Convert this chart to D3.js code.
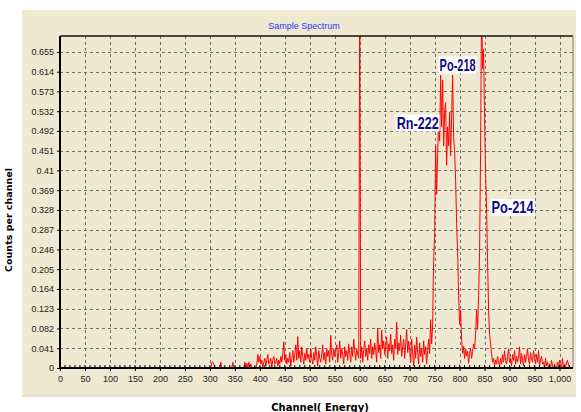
<!DOCTYPE html>
<html>
<head>
<meta charset="utf-8">
<script src="https://cdn.jsdelivr.net/npm/d3@7"></script>
<style>
  body { margin: 0; background: #fff; }
  svg { display: block; }
</style>
</head>
<body>
<div id="chart"></div>
<script>
// ---- Data ----
const channelStart = 300;
const channelStep = 2;
const counts = [
  // 300-348
  0,0,0.012,0.012,0.008,0,0,0,0,0,0,0.012,0,0,0,0,0,0,0,0,0,0,0,0.012,0,
  // 350-398
  0,0,0,0,0,0,0,0,0,0,0.012,0,0.01,0,0.012,0,0.008,0,0,0,0,0,0.008,0.028,0.012,
  // 400-448
  0.024,0.008,0.016,0,0.012,0.02,0.004,0.016,0.028,0.008,0.012,0.02,0,0.016,0.024,0.008,0.012,0.02,0.004,0.016,0.008,0.024,0.012,0.03,0.054,
  // 450-498
  0.016,0.028,0.008,0.02,0.012,0.032,0.004,0.02,0.036,0.012,0.028,0.048,0.016,0.065,0.02,0.036,0.012,0.044,0.024,0.008,0.03,0.016,0.04,0.02,0.028,
  // 500-548
  0.012,0.04,0.02,0.008,0.032,0.016,0.044,0.024,0.004,0.036,0.02,0.012,0.028,0.048,0.016,0.032,0.008,0.04,0.024,0.036,0.012,0.068,0.028,0.016,0.04,
  // 550-598
  0.024,0.036,0.048,0.012,0.032,0.056,0.02,0.04,0.028,0.008,0.044,0.024,0.036,0.016,0.05,0.03,0.012,0.044,0.024,0.06,0.036,0.016,0.04,0.028,0.02,
  // 600-648
  0.76,0.02,0.044,0.012,0.036,0.056,0.024,0.04,0.016,0.048,0.03,0.06,0.02,0.044,0.028,0.052,0.036,0.012,0.083,0.032,0.048,0.02,0.079,0.04,0.056,
  // 650-698
  0.028,0.044,0.064,0.02,0.05,0.036,0.07,0.03,0.048,0.016,0.06,0.04,0.095,0.028,0.052,0.036,0.068,0.024,0.044,0.06,0.02,0.048,0.08,0.032,0.056,
  // 700-748
  0.036,0.012,0.06,0.028,0.004,0.048,0.02,0.064,0.032,0.008,0.052,0.024,0.04,0.012,0.056,0.028,0.044,0.008,0.036,0.06,0.03,0.10,0.05,0.09,0.22,
  // 750-798 (Rn-222 / Po-218)
  0.28,0.46,0.36,0.44,0.52,0.47,0.607,0.50,0.597,0.46,0.53,0.55,0.42,0.50,0.46,0.53,0.44,0.52,0.607,0.48,0.45,0.39,0.30,0.24,0.15,
  // 800-848 (Po-214 rising)
  0.09,0.12,0.06,0.03,0.045,0.02,0.04,0.025,0.035,0.01,0.03,0.04,0.02,0.035,0.05,0.04,0.07,0.12,0.08,0.15,0.24,0.45,0.76,0.62,0.66,
  // 850-898
  0.52,0.40,0.33,0.22,0.12,0.07,0.05,0.03,0.012,0.02,0.004,0.016,0.008,0.024,0.012,0.004,0.02,0.008,0.028,0.012,0.036,0.016,0.008,0.024,0.04,
  // 900-948
  0.012,0.02,0.004,0.028,0.016,0.036,0.008,0.024,0.012,0.02,0.044,0.008,0.03,0.016,0.004,0.028,0.012,0.024,0.04,0.016,0.008,0.032,0.02,0.012,0.036,
  // 950-998
  0.02,0.008,0.028,0.012,0.036,0.004,0.016,0.024,0.008,0.012,0,0.02,0.004,0.012,0,0.008,0,0.016,0.004,0,0.008,0,0,0.012,0,
  // 1000-1022
  0.016,0.004,0,0.02,0,0.008,0,0.012,0.016,0.004,0,0
];

const xTickValues = d3.range(0, 1001, 50);
const yTickLabels = ["0","0.041","0.082","0.123","0.164","0.205","0.246","0.287","0.328",
                     "0.369","0.41","0.451","0.492","0.532","0.573","0.614","0.655"];
const yTickStep = 0.655 / 16;

const peakLabels   = ["Rn-222", "Po-218", "Po-214"];
const peakChannels = [716, 796, 906];
const peakValues   = [0.508, 0.628, 0.333];
const peakWidths   = [42, 36, 42];

// ---- Layout ----
const W = 581, H = 412;
const plot = { left: 60, top: 36, right: 573, bottom: 368 };
const narrow = "'Liberation Sans Narrow', 'Arial Narrow', sans-serif";

const svg = d3.select("#chart").append("svg")
  .attr("width", W).attr("height", H);

// outer panel
svg.append("rect")
  .attr("x", 22).attr("y", 10).attr("width", 554).attr("height", 386)
  .attr("fill", "#efe9d1");
svg.append("line")
  .attr("x1", 22).attr("x2", 576).attr("y1", 396).attr("y2", 396)
  .attr("stroke", "#d6d0bb");

const x = d3.scaleLinear().domain([0, 1027]).range([plot.left, plot.right]);
const y = d3.scaleLinear().domain([0, 0.688]).range([plot.bottom, plot.top]);

// ---- Grid ----
const grid = svg.append("g")
  .attr("stroke", "#6f6f6f")
  .attr("stroke-width", 1)
  .attr("stroke-dasharray", "3,3");

grid.selectAll("line.v")
  .data(xTickValues.slice(1))
  .join("line")
  .attr("x1", d => Math.round(x(d)) + 0.5).attr("x2", d => Math.round(x(d)) + 0.5)
  .attr("y1", plot.top).attr("y2", plot.bottom);

grid.selectAll("line.h")
  .data(yTickLabels.slice(1))
  .join("line")
  .attr("x1", plot.left).attr("x2", plot.right)
  .attr("y1", (d, i) => Math.round(y((i + 1) * yTickStep)) + 0.5)
  .attr("y2", (d, i) => Math.round(y((i + 1) * yTickStep)) + 0.5);

// ---- Spectrum ----
svg.append("clipPath").attr("id", "clip")
  .append("rect")
  .attr("x", plot.left).attr("y", plot.top)
  .attr("width", plot.right - plot.left).attr("height", plot.bottom - plot.top);

const line = d3.line()
  .x((d, i) => x(channelStart + i * channelStep))
  .y(d => y(d));

svg.append("path")
  .datum(counts)
  .attr("clip-path", "url(#clip)")
  .attr("fill", "none")
  .attr("stroke", "#ff0000")
  .attr("stroke-width", 1)
  .attr("d", line);

// ---- Frame ----
svg.append("line")
  .attr("x1", plot.left).attr("x2", plot.right)
  .attr("y1", plot.top).attr("y2", plot.top)
  .attr("stroke", "#111").attr("stroke-width", 1.5);
svg.append("line")
  .attr("x1", plot.right).attr("x2", plot.right)
  .attr("y1", plot.top).attr("y2", plot.bottom)
  .attr("stroke", "#7a7a7a").attr("stroke-width", 1);

// ---- Axes ----
const xAxis = d3.axisBottom(x)
  .tickValues(xTickValues)
  .tickSize(3)
  .tickFormat(d3.format(","));
const gx = svg.append("g")
  .attr("transform", `translate(0,${plot.bottom})`)
  .call(xAxis);
gx.select(".domain").remove();
gx.selectAll("text")
  .attr("dy", "0.9em")
  .style("font-family", narrow).style("font-size", "9px").attr("fill", "#222");

// minor ticks every 10 channels
svg.append("g")
  .selectAll("line")
  .data(d3.range(0, 1021, 10))
  .join("line")
  .attr("x1", d => x(d)).attr("x2", d => x(d))
  .attr("y1", plot.bottom - 3).attr("y2", plot.bottom)
  .attr("stroke", "#000");

const yAxis = d3.axisLeft(y)
  .tickValues(d3.range(17).map(i => i * yTickStep))
  .tickSize(3)
  .tickFormat((d, i) => yTickLabels[i]);
const gy = svg.append("g")
  .attr("transform", `translate(${plot.left},0)`)
  .call(yAxis);
gy.select(".domain").remove();
gy.selectAll("text")
  .style("font-family", narrow).style("font-size", "9px").attr("fill", "#222");

svg.append("line")
  .attr("x1", plot.left).attr("x2", plot.right)
  .attr("y1", plot.bottom).attr("y2", plot.bottom)
  .attr("stroke", "#000").attr("stroke-width", 2);
svg.append("line")
  .attr("x1", plot.left).attr("x2", plot.left)
  .attr("y1", plot.top).attr("y2", plot.bottom + 1)
  .attr("stroke", "#000").attr("stroke-width", 2);

// ---- Titles ----
svg.append("text")
  .attr("x", 304).attr("y", 29)
  .attr("text-anchor", "middle")
  .style("font-family", narrow).style("font-size", "9px")
  .attr("fill", "#3030ff")
  .text("Sample Spectrum");

svg.append("text")
  .attr("x", 320).attr("y", 411)
  .attr("text-anchor", "middle")
  .style("font-family", "'DejaVu Sans', sans-serif").style("font-size", "10px")
  .style("font-weight", "700")
  .text("Channel( Energy)");

svg.append("text")
  .attr("transform", "translate(12,220) rotate(-90)")
  .attr("text-anchor", "middle")
  .style("font-family", "'DejaVu Sans', sans-serif").style("font-size", "9.5px")
  .style("font-weight", "700")
  .text("Counts per channel");

// ---- Peak labels ----
const ann = svg.append("g").selectAll("g")
  .data(peakLabels)
  .join("g")
  .attr("transform", (d, i) => `translate(${x(peakChannels[i])},${y(peakValues[i])})`);

ann.append("rect")
  .attr("x", (d, i) => -peakWidths[i] / 2 - 1)
  .attr("y", -8.5)
  .attr("width", (d, i) => peakWidths[i] + 2)
  .attr("height", 17)
  .attr("fill", "#fff");

ann.append("text")
  .attr("text-anchor", "middle")
  .attr("y", 6)
  .attr("textLength", (d, i) => peakWidths[i])
  .attr("lengthAdjust", "spacingAndGlyphs")
  .style("font-family", narrow).style("font-size", "17px")
  .style("font-weight", "700")
  .attr("fill", "#0a0a8a")
  .text(d => d);
</script>
</body>
</html>
